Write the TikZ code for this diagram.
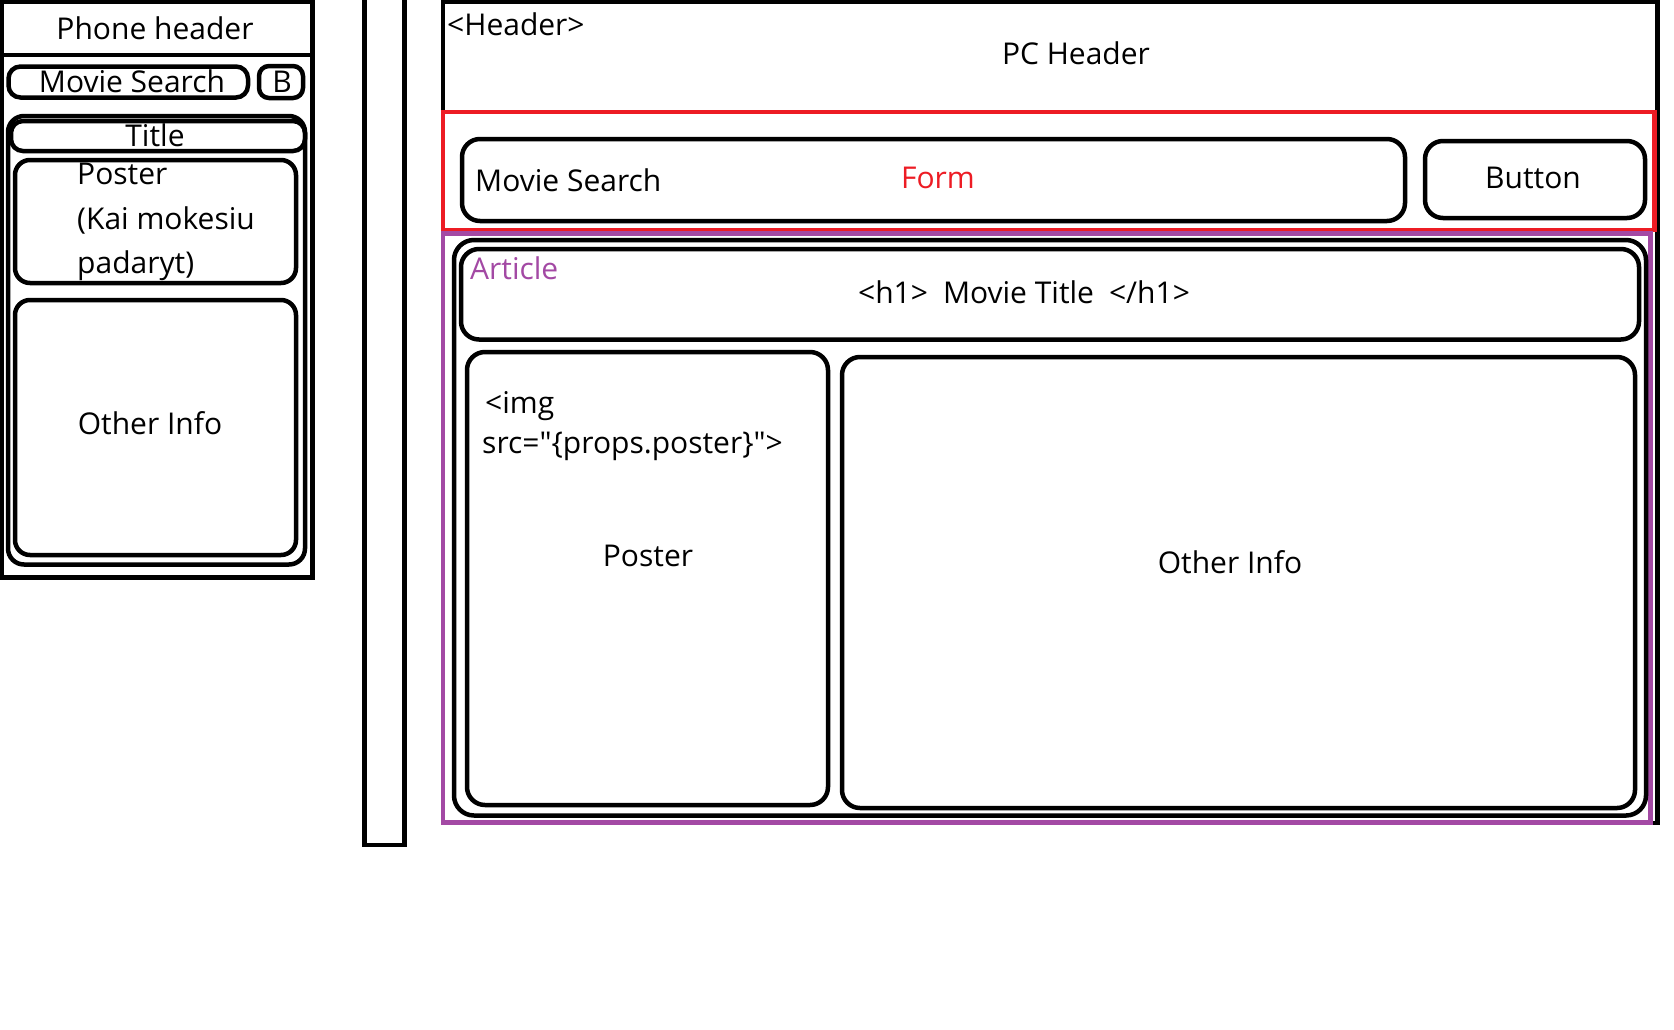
\documentclass[tikz,border=0pt]{standalone}
\usepackage{fontspec}
\newfontfamily\wf{Open Sans}
\definecolor{pred}{HTML}{ED1C24}
\definecolor{ppurple}{HTML}{A349A4}
\begin{document}
\begin{tikzpicture}[x=1pt,y=-1pt,
  wire/.style={draw=black,line width=4.5pt},
  rbox/.style={wire,rounded corners=#1},
  lbl/.style={inner sep=0pt,font=\wf\fontsize{30}{36}\selectfont},
  lblw/.style={lbl,anchor=base west},
  lblc/.style={lbl,anchor=base}]
\useasboundingbox (0,0) rectangle (1674,1029);
\fill[white] (0,0) rectangle (1674,1029);

% ---------- phone layout ----------
\draw[wire] (2,2) rectangle (312.5,577.5);
\draw[wire] (2,55) -- (312.5,55);
\draw[rbox=12pt] (8.5,66.5) rectangle (248,97.5);
\draw[rbox=10pt] (259,66) rectangle (303,98);
\draw[rbox=16pt] (8,116) rectangle (305,564.5);
\draw[rbox=12pt] (11,121) rectangle (305,151);
\draw[rbox=15pt] (15,160) rectangle (296,283);
\draw[rbox=15pt] (15,300) rectangle (296,555);

\node[lblc] (phh) at (155,39) {Phone header};
\node[lblc] (phs) at (132,92) {Movie Search};
\node[lblc] (phb) at (282,92) {B};
\node[lblc] (pht) at (155,146) {Title};
\node[lblw] (php1) at (77,184) {Poster};
\node[lblw] (php2) at (77,229) {(Kai mokesiu};
\node[lblw] (php3) at (77,273) {padaryt)};
\node[lblc] (pho) at (150,434) {Other Info};

% ---------- separator bar ----------
\draw[wire] (364.5,-10) rectangle (404.5,845);

% ---------- PC layout ----------
\draw[wire] (443,2) rectangle (1657.5,823);
\draw[draw=pred,line width=4.5pt] (443,112) rectangle (1654.5,230);
\draw[draw=ppurple,line width=4.5pt] (443,233.5) rectangle (1650.5,822.5);

\draw[rbox=18pt] (462,139) rectangle (1405,221);
\draw[rbox=18pt] (1425,141) rectangle (1645,218);

\draw[rbox=20pt] (454,240) rectangle (1646,815.5);
\draw[rbox=18pt] (461,249) rectangle (1639,339.5);
\draw[rbox=18pt] (467,352) rectangle (828,805);
\draw[rbox=18pt] (842,357) rectangle (1635,808);

\node[lblw] (pch) at (447,35) {<Header>};
\node[lblc] (pct) at (1076,64) {PC Header};
\node[lblw] (pcs) at (475,191) {Movie Search};
\node[lblc,text=pred] (pcf) at (938,188) {Form};
\node[lblc] (pcb) at (1533,188) {Button};
\node[lblw,text=ppurple] (pca) at (470,279) {Article};
\node[lblc] (pch1) at (1024,303) {<h1>\hspace{15pt}Movie Title\hspace{15pt}</h1>};
\node[lblw] (pci1) at (485,413) {<img};
\node[lblw] (pci2) at (482,453) {src="\{props.poster\}">};
\node[lblc] (pcp) at (648,566) {Poster};
\node[lblc] (pco) at (1230,573) {Other Info};
\end{tikzpicture}
\end{document}
